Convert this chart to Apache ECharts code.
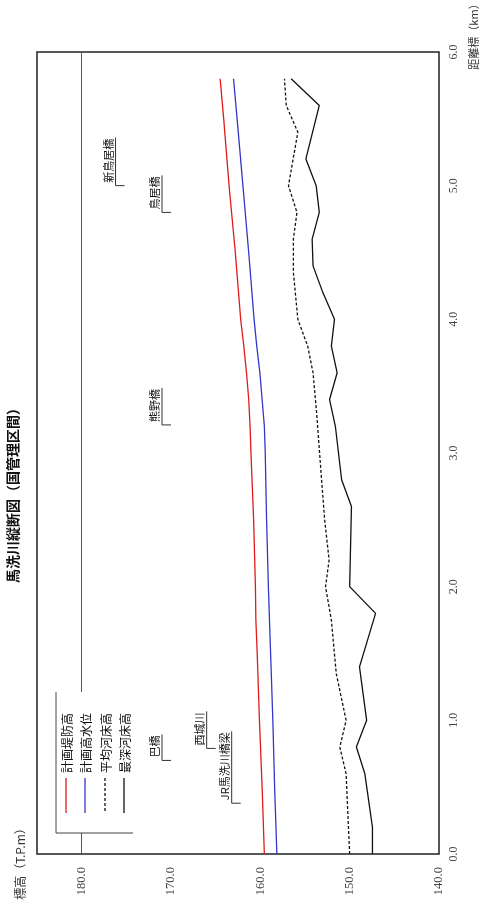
<!DOCTYPE html>
<html>
<head>
<meta charset="utf-8">
<script src="https://cdn.jsdelivr.net/npm/echarts@6/dist/echarts.min.js"></script>
<style>
  html, body { margin: 0; padding: 0; background: #fff; }
  #main { width: 484px; height: 905px; }
</style>
</head>
<body>
<div id="main"></div>
<script>
// 距離標 (km) と 標高 (T.P.m)
const dikeDist = [0, 0.5, 1.0, 1.5, 1.75, 2.0, 2.5, 3.0, 3.2, 3.4, 3.6, 3.8, 4.0, 4.5, 5.0, 5.5, 5.8];
const dikeElev = [159.55, 159.8, 160.1, 160.35, 160.5, 160.55, 160.75, 161.05, 161.15, 161.3, 161.55, 161.85, 162.2, 162.8, 163.5, 164.1, 164.5];

const floodDist = [0, 0.5, 1.0, 1.5, 2.0, 2.5, 3.0, 3.2, 3.4, 3.6, 3.8, 4.0, 4.5, 5.0, 5.5, 5.8];
const floodElev = [158.15, 158.4, 158.6, 158.85, 159.1, 159.3, 159.45, 159.55, 159.8, 160.05, 160.4, 160.7, 161.3, 161.95, 162.6, 163.0];

const avgDist = [0, 0.6, 0.8, 1.0, 1.35, 1.75, 2.0, 2.2, 2.5, 2.85, 3.3, 3.6, 3.8, 4.0, 4.35, 4.6, 4.8, 5.0, 5.4, 5.6, 5.8];
const avgElev = [150.0, 150.4, 151.1, 150.4, 151.5, 152.05, 152.7, 152.3, 152.8, 153.2, 153.7, 154.1, 154.7, 155.8, 156.3, 156.3, 155.9, 156.85, 155.8, 157.1, 157.3];

const deepDist = [0, 0.2, 0.6, 0.8, 1.0, 1.4, 1.8, 2.0, 2.6, 2.8, 3.2, 3.4, 3.6, 3.8, 4.0, 4.2, 4.4, 4.6, 4.8, 5.0, 5.2, 5.6, 5.8];
const deepElev = [147.45, 147.45, 148.3, 149.25, 148.1, 148.9, 147.1, 150.0, 149.8, 150.9, 151.6, 152.25, 151.4, 152.05, 151.7, 153.0, 154.1, 154.2, 153.4, 153.75, 154.9, 153.4, 156.55];

const bridgeNames = ['巴橋', '西城川', 'JR馬洗川橋梁', '熊野橋', '鳥居橋', '新鳥居橋'];
const bridgeDist = [0.70, 0.79, 0.38, 3.21, 4.80, 5.00];
const bridgeElev = [170.0, 165.0, 162.2, 170.0, 170.0, 175.2];

const refLineElev = 180;

const legendNames = ['計画堤防高', '計画高水位', '平均河床高', '最深河床高'];

const elevTicks = [140, 150, 160, 170, 180];

const JP = '"Noto Sans CJK JP", sans-serif';
const SERIF = '"Liberation Serif", "DejaVu Serif", serif';

const pairs = (dist, elev) => dist.map((d, i) => [elev[i], d]);

const measure = document.createElement('canvas').getContext('2d');
measure.font = '11px ' + JP;

const chart = echarts.init(document.getElementById('main'));

const lineColors = ['#e01b1b', '#3535c8', '#111', '#111'];

const legendX = [66, 85, 105, 124];
const legendGraphics = [];
legendNames.forEach((name, i) => {
  legendGraphics.push({
    type: 'line',
    z: 101,
    shape: { x1: legendX[i], y1: 778, x2: legendX[i], y2: 813 },
    style: {
      stroke: lineColors[i],
      lineWidth: 1.3,
      lineDash: i === 2 ? [3, 2] : null,
    },
  });
  legendGraphics.push({
    type: 'text',
    z: 101,
    x: legendX[i] + 1,
    y: 743,
    rotation: Math.PI / 2,
    style: {
      text: name,
      font: '12px ' + JP,
      fill: '#111',
      align: 'center',
      verticalAlign: 'middle',
    },
  });
});

const option = {
  animation: false,
  backgroundColor: '#fff',
  grid: {
    left: 37,
    right: 45,
    top: 52,
    bottom: 51,
    show: true,
    borderColor: '#222',
    borderWidth: 1.5,
    backgroundColor: 'transparent',
    containLabel: false,
    outerBoundsMode: 'none',
  },
  xAxis: {
    type: 'value',
    inverse: true,
    min: 140,
    max: 185,
    interval: 10,
    axisLine: { show: false },
    axisTick: { show: false },
    splitLine: { show: false },
    axisLabel: {
      rotate: 90,
      margin: 13,
      fontFamily: SERIF,
      fontSize: 12.5,
      color: '#444',
      formatter: (v) => (elevTicks.includes(v) ? v.toFixed(1) : ''),
    },
  },
  yAxis: {
    type: 'value',
    position: 'right',
    min: 0,
    max: 6,
    interval: 1,
    axisLine: { show: false },
    axisTick: { show: false },
    splitLine: { show: false },
    axisLabel: {
      rotate: 90,
      margin: 9,
      fontFamily: SERIF,
      fontSize: 12,
      color: '#444',
      formatter: (v) => v.toFixed(1),
    },
  },
  series: [
    {
      name: legendNames[0],
      type: 'line',
      data: pairs(dikeDist, dikeElev),
      symbol: 'none',
      lineStyle: { color: lineColors[0], width: 1.3 },
      markLine: {
        silent: true,
        symbol: 'none',
        label: { show: false },
        lineStyle: { color: '#555', width: 1, type: 'solid' },
        data: [{ xAxis: refLineElev }],
      },
    },
    {
      name: legendNames[1],
      type: 'line',
      data: pairs(floodDist, floodElev),
      symbol: 'none',
      lineStyle: { color: lineColors[1], width: 1.3 },
    },
    {
      name: legendNames[2],
      type: 'line',
      data: pairs(avgDist, avgElev),
      symbol: 'none',
      lineStyle: { color: lineColors[2], width: 1.3, type: [3, 2] },
    },
    {
      name: legendNames[3],
      type: 'line',
      data: pairs(deepDist, deepElev),
      symbol: 'none',
      lineStyle: { color: lineColors[3], width: 1.3 },
    },
    {
      // 橋梁・支川の引出し線付き注記
      type: 'custom',
      silent: true,
      data: pairs(bridgeDist, bridgeElev),
      encode: { x: 0, y: 1 },
      renderItem: (params, api) => {
        const p = api.coord([api.value(0), api.value(1)]);
        const name = bridgeNames[params.dataIndex];
        const w = measure.measureText(name).width;
        const cx = p[0] - 9;
        const cy = p[1];
        return {
          type: 'group',
          children: [
            {
              type: 'polyline',
              shape: { points: [[p[0], p[1]], [cx, cy], [cx, cy - w - 4]] },
              style: { stroke: '#333', lineWidth: 1, fill: null },
            },
            {
              type: 'text',
              x: cx - 7,
              y: cy - 3 - w / 2,
              rotation: Math.PI / 2,
              style: {
                text: name,
                font: '11px ' + JP,
                fill: '#111',
                align: 'center',
                verticalAlign: 'middle',
              },
            },
          ],
        };
      },
    },
  ],
  graphic: [
    {
      type: 'text',
      x: 13,
      y: 492,
      rotation: Math.PI / 2,
      style: {
        text: '馬洗川縦断図（国管理区間）',
        font: 'bold 14px ' + JP,
        fill: '#111',
        align: 'center',
        verticalAlign: 'middle',
      },
    },
    {
      type: 'text',
      x: 20,
      y: 861,
      rotation: Math.PI / 2,
      style: {
        text: '標高（T.P.m）',
        font: '12px ' + JP,
        fill: '#333',
        align: 'center',
        verticalAlign: 'middle',
      },
    },
    {
      type: 'text',
      x: 474,
      y: 34,
      rotation: Math.PI / 2,
      style: {
        text: '距離標（km）',
        font: '11px ' + JP,
        fill: '#333',
        align: 'center',
        verticalAlign: 'middle',
      },
    },
    {
      type: 'rect',
      z: 100,
      shape: { x: 56, y: 692, width: 77, height: 141 },
      style: { fill: '#fff' },
    },
    {
      type: 'polyline',
      z: 101,
      shape: { points: [[56, 692], [56, 833], [133, 833]] },
      style: { stroke: '#444', lineWidth: 1, fill: null },
    },
    ...legendGraphics,
  ],
};

chart.setOption(option);
</script>
</body>
</html>
